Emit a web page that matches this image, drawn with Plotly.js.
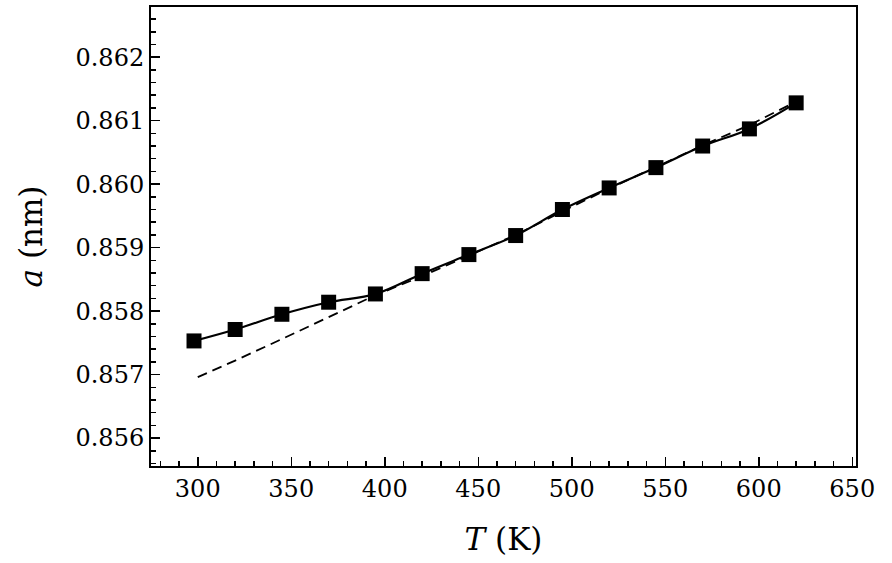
<!DOCTYPE html>
<html>
<head>
<meta charset="utf-8">
<script src="https://cdn.plot.ly/plotly-3.0.1.min.js"></script>
<style>html,body{margin:0;padding:0;background:#fff;}#chart{width:892px;height:563px;}</style>
</head>
<body>
<div id="chart"></div>
<script>
const tempMeasured = [298, 320, 345, 370, 395, 420, 445, 470, 495, 520, 545, 570, 595, 620];
const latticeMeasured = [0.85753, 0.85771, 0.85795, 0.85814, 0.85827, 0.85859, 0.85889, 0.85919, 0.85960, 0.85994, 0.86026, 0.86060, 0.86087, 0.86128];
const tempFit = [300, 320, 345, 370, 395, 420, 445, 470, 495, 520, 545, 570, 595, 620];
const latticeFit = [0.85696, 0.85722, 0.85756, 0.85791, 0.85825, 0.85855, 0.85887, 0.85920, 0.85957, 0.85993, 0.86027, 0.86061, 0.86093, 0.86130];

const font = {family: 'DejaVu Serif, Liberation Serif, serif', color: '#000'};

const traces = [
  {x: tempFit, y: latticeFit, mode: 'lines', type: 'scatter',
   line: {color: '#000', width: 1.8, dash: '10px,6px'}, hoverinfo: 'skip'},
  {x: tempMeasured, y: latticeMeasured, mode: 'lines+markers', type: 'scatter',
   line: {color: '#000', width: 2.2, shape: 'spline', smoothing: 1},
   marker: {symbol: 'square', size: 15, color: '#000'}}
];

const layout = {
  width: 892, height: 563,
  margin: {l: 151, r: 36, t: 7, b: 97},
  paper_bgcolor: '#fff', plot_bgcolor: '#fff',
  showlegend: false,
  font: Object.assign({size: 25}, font),
  xaxis: {
    range: [275, 652], dtick: 50, tick0: 300,
    ticks: 'inside', ticklen: 9, tickwidth: 1.5, tickcolor: '#000',
    minor: {dtick: 10, ticks: 'inside', ticklen: 5, tickwidth: 1.5, tickcolor: '#000'},
    showgrid: false, zeroline: false,
    showline: true, linecolor: '#000', linewidth: 2, mirror: true,
    tickfont: Object.assign({size: 24}, font),
    title: {text: '<i>T</i> (K)', font: Object.assign({size: 31}, font), standoff: 27}
  },
  yaxis: {
    range: [0.85556, 0.86279], dtick: 0.001, tick0: 0.856, tickformat: '.3f',
    ticks: 'inside', ticklen: 9, tickwidth: 1.5, tickcolor: '#000',
    minor: {dtick: 0.0002, ticks: 'inside', ticklen: 5, tickwidth: 1.5, tickcolor: '#000'},
    showgrid: false, zeroline: false,
    showline: true, linecolor: '#000', linewidth: 2, mirror: true,
    tickfont: Object.assign({size: 24}, font),
    title: {text: '<i>a</i> (nm)', font: Object.assign({size: 31}, font), standoff: 24}
  }
};

Plotly.newPlot('chart', traces, layout, {displayModeBar: false, staticPlot: true});
</script>
</body>
</html>
